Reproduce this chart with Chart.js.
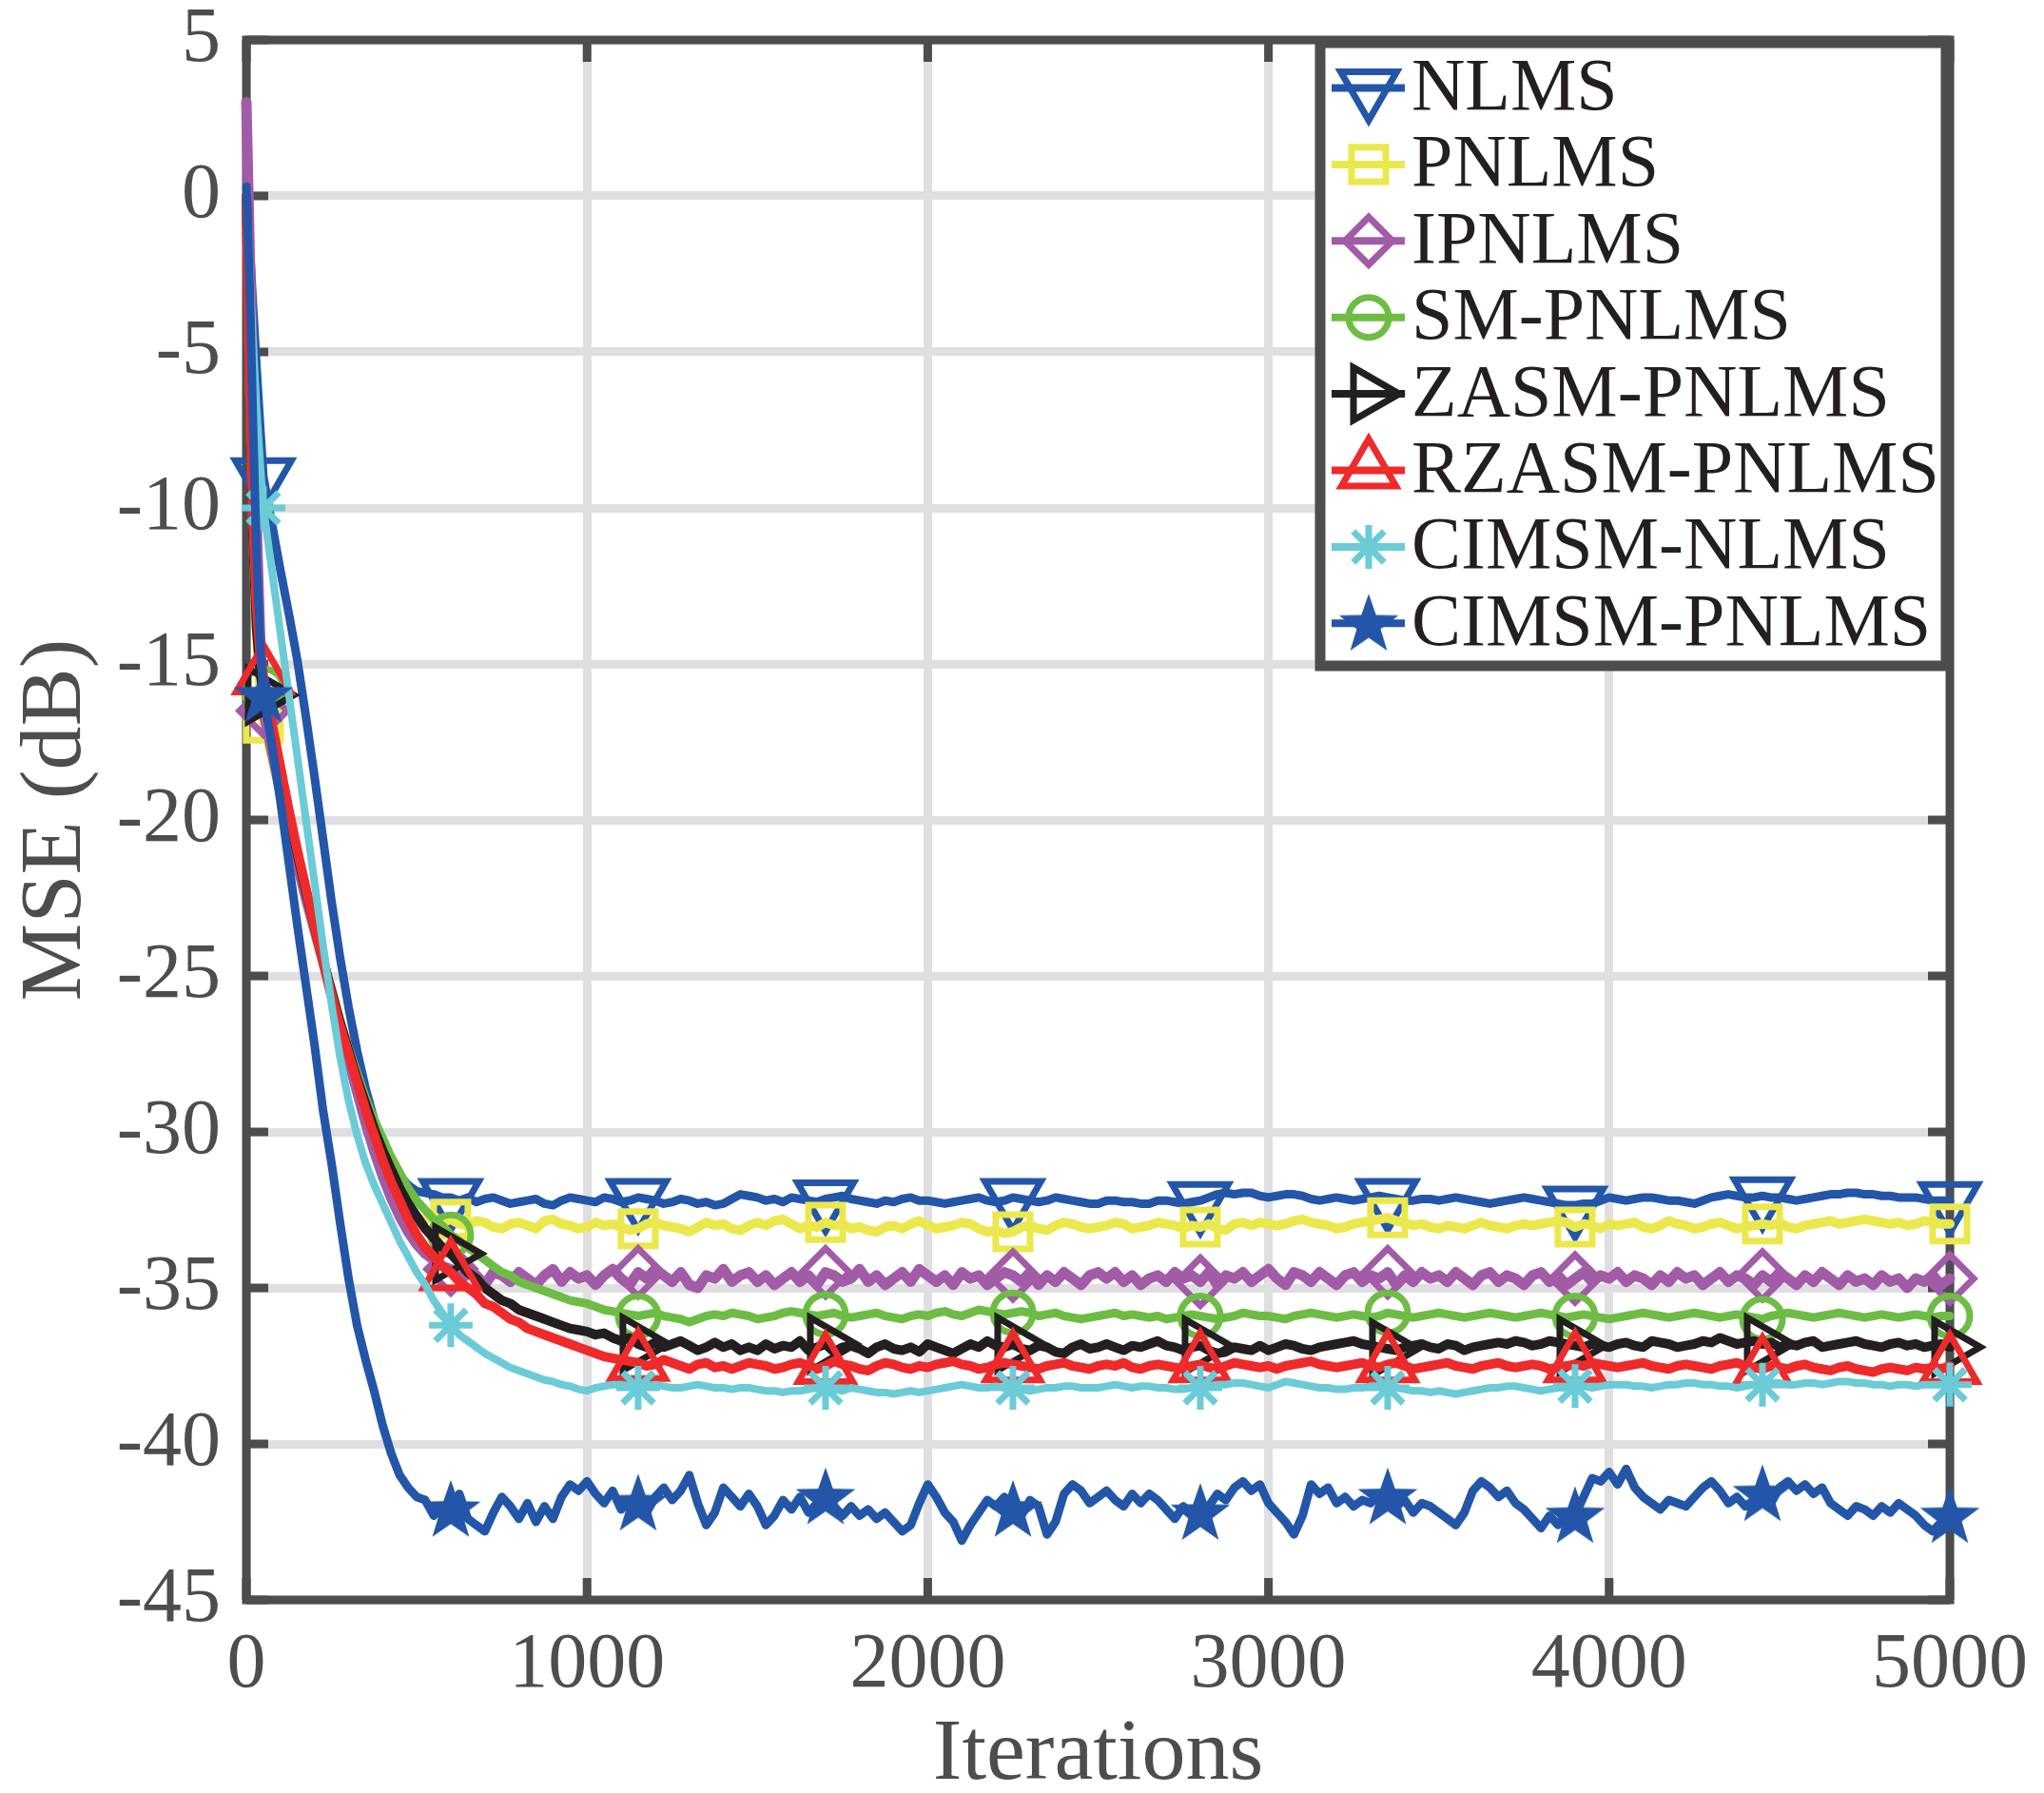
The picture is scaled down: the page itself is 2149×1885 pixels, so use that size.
<!DOCTYPE html>
<html><head><meta charset="utf-8">
<script src="https://cdn.jsdelivr.net/npm/chart.js@4.4.0/dist/chart.umd.min.js"></script>
<style>html,body{margin:0;padding:0;background:#fff;}#wrap{width:2149px;height:1885px;}</style>
</head><body><div id="wrap"><canvas id="c" width="2149" height="1885"></canvas></div>
<script>
// ---------------- DATA ----------------
const iterations = [0,10,20,30,40,50,75,100,125,150,175,200,225,250,275,300,325,350,375,400,425,450,475,500,
525,550,575,600,625,650,675,700,725,750,
775,800,825,850,875,900,925,950,975,1000,
1025,1050,1075,1100,1125,1150,1175,1200,1225,1250,
1275,1300,1325,1350,1375,1400,1425,1450,1475,1500,
1525,1550,1575,1600,1625,1650,1675,1700,1725,1750,
1775,1800,1825,1850,1875,1900,1925,1950,1975,2000,
2025,2050,2075,2100,2125,2150,2175,2200,2225,2250,
2275,2300,2325,2350,2375,2400,2425,2450,2475,2500,
2525,2550,2575,2600,2625,2650,2675,2700,2725,2750,
2775,2800,2825,2850,2875,2900,2925,2950,2975,3000,
3025,3050,3075,3100,3125,3150,3175,3200,3225,3250,
3275,3300,3325,3350,3375,3400,3425,3450,3475,3500,
3525,3550,3575,3600,3625,3650,3675,3700,3725,3750,
3775,3800,3825,3850,3875,3900,3925,3950,3975,4000,
4025,4050,4075,4100,4125,4150,4175,4200,4225,4250,
4275,4300,4325,4350,4375,4400,4425,4450,4475,4500,
4525,4550,4575,4600,4625,4650,4675,4700,4725,4750,
4775,4800,4825,4850,4875,4900,4925,4950,4975,5000];

const seriesNames = ['NLMS','PNLMS','IPNLMS','SM-PNLMS','ZASM-PNLMS','RZASM-PNLMS','CIMSM-NLMS','CIMSM-PNLMS'];

const nlms = [0.2,-1.6,-3.6,-5.5,-7.3,-9.0,-10.5,-12.0,-13.4,-14.9,-16.7,-18.6,-20.6,-22.6,-24.4,-26.0,-27.4,-28.6,-29.6,-30.4,-31.0,-31.4,-31.7,-31.9,
-31.95,-32.0,-32.1,-32.1,-32.2,-32.1,-32.25,-32.15,-32.1,-32.2,
-32.3,-32.25,-32.2,-32.15,-32.3,-32.35,-32.2,-32.1,-32.15,-32.2,
-32.25,-32.1,-32.15,-32.25,-32.2,-32.1,-32.15,-32.2,-32.3,-32.25,
-32.15,-32.2,-32.3,-32.25,-32.35,-32.3,-32.15,-32.0,-32.05,-32.1,
-32.2,-32.15,-32.25,-32.1,-32.15,-32.2,-32.25,-32.15,-32.1,-32.05,
-32.15,-32.2,-32.25,-32.3,-32.2,-32.25,-32.15,-32.1,-32.2,-32.2,
-32.25,-32.3,-32.25,-32.2,-32.15,-32.1,-32.2,-32.25,-32.2,-32.1,
-32.15,-32.2,-32.25,-32.2,-32.1,-32.15,-32.2,-32.25,-32.3,-32.3,
-32.2,-32.2,-32.25,-32.25,-32.3,-32.3,-32.2,-32.2,-32.25,-32.3,
-32.25,-32.2,-32.1,-32.0,-31.95,-32.0,-31.95,-31.95,-32.05,-32.1,
-32.05,-32.0,-32.0,-32.05,-32.15,-32.2,-32.15,-32.1,-32.15,-32.2,
-32.15,-32.1,-32.05,-32.1,-32.15,-32.2,-32.2,-32.15,-32.15,-32.2,
-32.15,-32.1,-32.15,-32.2,-32.25,-32.3,-32.25,-32.2,-32.15,-32.1,
-32.15,-32.2,-32.25,-32.3,-32.35,-32.35,-32.3,-32.3,-32.2,-32.1,
-32.15,-32.2,-32.15,-32.1,-32.1,-32.15,-32.2,-32.2,-32.25,-32.3,
-32.2,-32.1,-32.05,-32.0,-32.05,-32.1,-32.1,-32.05,-32.1,-32.1,
-32.15,-32.2,-32.15,-32.1,-32.05,-32.0,-32.0,-31.95,-31.95,-32.0,
-32.0,-32.05,-32.05,-32.1,-32.1,-32.1,-32.15,-32.2,-32.2,-32.2];

const pnlms = [0.3,-6.0,-11.0,-14.0,-15.9,-16.9,-18.0,-19.2,-20.4,-21.5,-22.6,-23.6,-24.6,-25.6,-26.6,-27.6,-28.6,-29.6,-30.5,-31.3,-31.9,-32.3,-32.6,-32.8,
-32.8,-32.7,-32.9,-32.8,-32.95,-33.0,-32.85,-32.9,-33.05,-33.1,
-32.95,-32.9,-33.0,-33.1,-32.85,-32.8,-32.95,-33.0,-33.1,-33.05,
-32.9,-33.0,-32.95,-33.05,-33.15,-33.1,-32.95,-32.9,-33.0,-33.05,
-33.1,-33.2,-33.05,-32.9,-33.0,-32.95,-33.1,-33.15,-33.0,-32.9,
-33.0,-32.85,-32.8,-32.95,-33.1,-33.0,-33.05,-32.9,-33.0,-32.95,
-33.1,-33.05,-33.15,-33.2,-33.05,-33.0,-33.1,-32.95,-32.85,-33.0,
-33.1,-33.05,-33.0,-32.9,-32.95,-33.1,-33.2,-33.15,-33.25,-33.2,
-33.05,-33.0,-33.1,-33.15,-33.0,-32.9,-32.95,-33.05,-33.1,-33.05,
-33.0,-32.9,-32.95,-33.1,-33.05,-33.0,-32.9,-32.95,-33.0,-33.1,
-33.0,-33.05,-32.95,-33.1,-33.15,-32.95,-32.9,-33.0,-32.9,-32.95,
-33.0,-32.95,-32.85,-32.8,-32.9,-32.95,-33.0,-33.1,-33.05,-32.95,
-32.9,-32.85,-32.8,-32.75,-32.85,-32.9,-33.0,-32.95,-33.05,-33.1,
-33.0,-33.05,-33.1,-33.0,-32.9,-33.0,-33.05,-33.1,-33.0,-32.95,
-33.0,-32.95,-32.9,-32.85,-32.9,-33.05,-32.95,-33.0,-33.1,-32.95,
-33.0,-32.95,-32.9,-33.05,-33.1,-33.0,-32.85,-32.95,-33.0,-33.1,
-33.05,-32.95,-32.9,-33.0,-33.1,-33.05,-33.0,-32.95,-33.0,-32.9,
-33.05,-33.1,-33.0,-32.95,-32.9,-32.85,-32.95,-32.9,-32.85,-32.8,
-32.85,-32.9,-32.95,-32.9,-33.0,-32.95,-32.85,-32.9,-32.95,-32.95];

const ipnlms = [3.0,-2.0,-6.0,-10.5,-14.0,-16.5,-17.8,-19.1,-20.3,-21.4,-22.5,-23.5,-24.5,-25.6,-26.6,-27.7,-28.7,-29.7,-30.6,-31.4,-32.1,-32.7,-33.2,-33.6,
-33.9,-34.1,-34.3,-34.4,-34.7,-34.5,-34.6,-34.9,-34.5,-34.6,
-34.8,-34.5,-34.7,-34.9,-34.6,-34.4,-34.8,-34.5,-34.7,-34.6,
-34.9,-34.6,-34.4,-34.7,-34.9,-34.5,-34.7,-34.4,-34.6,-34.8,
-34.5,-34.9,-35.0,-34.6,-34.7,-34.4,-34.8,-34.6,-34.5,-34.8,
-34.6,-34.9,-34.7,-34.5,-34.8,-34.6,-34.9,-34.5,-34.6,-34.8,
-34.7,-34.4,-34.8,-34.6,-34.9,-34.7,-34.5,-34.8,-34.4,-34.6,
-34.8,-34.6,-34.9,-34.5,-34.7,-34.6,-34.9,-34.7,-34.5,-34.6,
-34.8,-34.5,-34.9,-34.6,-34.8,-34.5,-34.7,-34.9,-34.6,-34.5,
-34.7,-34.5,-34.8,-34.6,-34.9,-34.7,-34.6,-34.8,-34.5,-34.7,
-34.6,-34.8,-34.5,-34.9,-34.6,-34.7,-34.5,-34.8,-34.6,-34.4,
-34.7,-34.9,-34.5,-34.6,-34.8,-34.5,-34.7,-34.9,-34.6,-34.5,
-34.8,-34.6,-34.7,-34.5,-34.9,-34.6,-34.8,-34.5,-34.7,-34.6,
-34.8,-34.5,-34.7,-34.9,-34.6,-34.5,-34.8,-34.6,-34.7,-34.9,
-34.6,-34.5,-34.8,-34.6,-34.9,-34.7,-34.5,-34.8,-34.6,-34.7,
-34.5,-34.8,-34.6,-34.7,-34.9,-34.6,-34.8,-34.5,-34.7,-34.6,
-34.9,-34.7,-34.5,-34.8,-34.6,-34.7,-34.9,-34.6,-34.8,-34.5,
-34.7,-34.9,-34.6,-34.8,-34.5,-34.7,-34.9,-34.6,-34.8,-34.7,
-34.9,-34.6,-34.8,-34.7,-35.0,-34.7,-34.8,-34.6,-34.9,-34.7];

const smpnlms = [0.0,-6.0,-11.0,-13.5,-15.0,-15.8,-17.0,-18.4,-19.7,-21.0,-22.2,-23.3,-24.4,-25.4,-26.4,-27.3,-28.1,-28.9,-29.6,-30.2,-30.8,-31.3,-31.8,-32.2,
-32.5,-32.8,-33.0,-33.3,-33.5,-33.7,-33.9,-34.1,-34.3,-34.5,
-34.6,-34.8,-34.9,-35.0,-35.1,-35.2,-35.3,-35.4,-35.45,-35.5,
-35.6,-35.7,-35.75,-35.8,-35.85,-35.9,-35.85,-35.8,-35.9,-35.95,
-36.0,-36.1,-36.0,-35.9,-35.85,-35.9,-35.8,-35.85,-35.9,-36.0,
-35.95,-35.9,-35.8,-35.75,-35.8,-35.85,-35.9,-35.85,-35.8,-35.9,
-35.95,-35.9,-35.85,-35.8,-35.9,-35.95,-36.0,-35.9,-35.85,-35.9,
-35.8,-35.75,-35.85,-35.9,-35.8,-35.7,-35.75,-35.8,-35.85,-35.8,
-35.75,-35.8,-35.9,-35.85,-35.8,-35.9,-35.95,-36.0,-35.95,-35.9,
-35.85,-35.8,-35.9,-35.85,-35.9,-35.95,-35.9,-36.0,-35.95,-35.9,
-35.85,-35.9,-35.95,-36.0,-35.95,-35.9,-35.8,-35.85,-35.9,-35.9,
-35.95,-36.0,-35.9,-35.85,-35.8,-35.85,-35.9,-35.95,-35.9,-35.85,
-35.9,-35.95,-35.9,-35.8,-35.85,-35.9,-35.95,-35.9,-35.85,-35.8,
-35.85,-35.9,-35.95,-35.9,-35.85,-35.8,-35.85,-35.9,-35.95,-35.9,
-35.85,-35.8,-35.85,-35.9,-35.95,-35.9,-35.85,-35.9,-35.95,-36.0,
-35.95,-35.9,-35.85,-35.8,-35.85,-35.9,-35.95,-35.9,-35.85,-35.8,
-35.85,-35.9,-35.95,-35.9,-35.85,-35.9,-35.95,-36.0,-35.9,-35.85,
-35.8,-35.85,-35.9,-35.95,-35.9,-35.85,-35.8,-35.85,-35.9,-35.95,
-35.9,-35.85,-35.9,-35.95,-35.9,-35.85,-35.9,-35.95,-35.9,-35.9];

const zasmpnlms = [0.0,-6.0,-11.0,-13.8,-15.2,-16.0,-17.3,-18.6,-19.9,-21.1,-22.3,-23.4,-24.5,-25.5,-26.5,-27.4,-28.3,-29.1,-29.9,-30.6,-31.2,-31.8,-32.3,-32.7,
-33.1,-33.4,-33.7,-33.9,-34.2,-34.5,-34.7,-35.0,-35.2,-35.4,
-35.5,-35.7,-35.8,-35.9,-36.0,-36.1,-36.2,-36.3,-36.35,-36.4,
-36.5,-36.45,-36.6,-36.7,-36.6,-36.8,-36.9,-36.75,-36.9,-36.8,
-36.7,-36.85,-37.0,-36.9,-36.75,-36.9,-36.8,-37.0,-36.9,-37.0,
-36.8,-36.95,-36.85,-36.9,-36.7,-37.0,-36.9,-36.8,-37.05,-36.9,
-36.85,-36.95,-37.1,-36.9,-36.8,-36.95,-37.0,-36.9,-37.05,-36.8,
-36.9,-37.0,-37.1,-36.95,-36.8,-36.9,-36.7,-36.85,-36.9,-36.8,
-36.95,-37.0,-36.85,-36.9,-37.05,-37.1,-36.9,-36.8,-36.95,-36.9,
-36.8,-36.9,-37.0,-36.85,-36.9,-36.8,-36.7,-36.85,-36.9,-37.0,
-36.9,-36.85,-37.0,-37.1,-37.05,-36.9,-36.95,-37.0,-36.85,-37.0,
-36.9,-36.8,-36.85,-36.95,-37.0,-36.9,-36.85,-36.8,-36.75,-36.7,
-36.8,-36.85,-36.9,-36.95,-37.0,-36.9,-36.85,-36.8,-36.9,-36.95,
-36.8,-36.85,-37.0,-36.9,-36.85,-36.8,-36.75,-36.8,-36.7,-36.75,
-36.85,-36.8,-36.7,-36.75,-36.8,-36.85,-36.9,-36.8,-36.85,-36.9,
-36.8,-36.75,-36.85,-36.9,-36.7,-36.75,-36.8,-36.9,-36.85,-36.8,
-36.7,-36.75,-36.6,-36.7,-36.8,-36.75,-36.7,-36.8,-36.75,-36.9,
-36.8,-36.85,-36.75,-36.7,-36.9,-36.85,-36.8,-36.75,-36.7,-36.8,
-36.85,-36.9,-36.8,-36.75,-36.85,-36.8,-36.9,-36.85,-36.8,-36.9];

const rzasmpnlms = [0.0,-6.0,-10.5,-13.2,-14.6,-15.4,-16.9,-18.3,-19.7,-21.0,-22.2,-23.4,-24.5,-25.6,-26.6,-27.5,-28.4,-29.3,-30.1,-30.9,-31.6,-32.2,-32.8,-33.3,
-33.7,-34.0,-34.3,-34.5,-34.8,-35.0,-35.2,-35.5,-35.6,-35.8,
-36.0,-36.1,-36.3,-36.4,-36.5,-36.6,-36.7,-36.8,-36.9,-37.0,
-37.1,-37.2,-37.25,-37.3,-37.35,-37.4,-37.5,-37.45,-37.3,-37.4,
-37.5,-37.6,-37.45,-37.4,-37.55,-37.5,-37.6,-37.5,-37.4,-37.45,
-37.5,-37.6,-37.55,-37.45,-37.4,-37.5,-37.6,-37.5,-37.35,-37.45,
-37.5,-37.6,-37.65,-37.5,-37.4,-37.45,-37.55,-37.6,-37.5,-37.55,
-37.45,-37.4,-37.35,-37.45,-37.5,-37.6,-37.55,-37.45,-37.4,-37.45,
-37.5,-37.55,-37.6,-37.5,-37.45,-37.4,-37.5,-37.55,-37.6,-37.5,
-37.45,-37.5,-37.4,-37.55,-37.6,-37.5,-37.45,-37.5,-37.55,-37.6,
-37.5,-37.45,-37.55,-37.6,-37.5,-37.4,-37.45,-37.5,-37.55,-37.5,
-37.6,-37.5,-37.45,-37.4,-37.35,-37.45,-37.5,-37.55,-37.5,-37.45,
-37.4,-37.5,-37.55,-37.45,-37.4,-37.5,-37.6,-37.55,-37.5,-37.45,
-37.4,-37.5,-37.55,-37.6,-37.5,-37.45,-37.4,-37.5,-37.55,-37.5,
-37.45,-37.5,-37.6,-37.55,-37.5,-37.45,-37.5,-37.4,-37.45,-37.5,
-37.55,-37.5,-37.45,-37.4,-37.5,-37.55,-37.6,-37.5,-37.45,-37.5,
-37.55,-37.6,-37.5,-37.45,-37.4,-37.5,-37.55,-37.6,-37.5,-37.55,
-37.6,-37.5,-37.45,-37.55,-37.6,-37.65,-37.55,-37.5,-37.6,-37.65,
-37.7,-37.6,-37.55,-37.6,-37.65,-37.55,-37.6,-37.55,-37.6,-37.5];

const cimsmnlms = [0.0,-2.5,-4.8,-6.8,-8.5,-10.0,-12.0,-14.0,-16.0,-18.0,-20.0,-22.0,-24.0,-25.9,-27.6,-29.0,-30.1,-31.0,-31.7,-32.3,-32.9,-33.5,-34.0,-34.5,
-34.9,-35.4,-35.8,-36.2,-36.5,-36.7,-36.9,-37.1,-37.25,-37.4,
-37.55,-37.65,-37.75,-37.85,-37.95,-38.0,-38.1,-38.15,-38.25,-38.3,
-38.2,-38.15,-38.1,-38.1,-38.15,-38.2,-38.15,-38.1,-38.15,-38.2,
-38.2,-38.15,-38.1,-38.15,-38.2,-38.2,-38.25,-38.2,-38.2,-38.25,
-38.3,-38.3,-38.35,-38.3,-38.3,-38.25,-38.2,-38.2,-38.25,-38.3,
-38.2,-38.25,-38.3,-38.35,-38.35,-38.4,-38.35,-38.3,-38.35,-38.3,
-38.25,-38.2,-38.15,-38.1,-38.15,-38.2,-38.2,-38.15,-38.2,-38.2,
-38.25,-38.3,-38.25,-38.2,-38.2,-38.15,-38.15,-38.2,-38.2,-38.2,
-38.15,-38.1,-38.15,-38.2,-38.15,-38.15,-38.2,-38.2,-38.25,-38.25,
-38.2,-38.2,-38.15,-38.1,-38.1,-38.05,-38.05,-38.1,-38.15,-38.2,
-38.1,-38.0,-38.05,-38.1,-38.15,-38.2,-38.2,-38.25,-38.25,-38.2,
-38.2,-38.15,-38.15,-38.2,-38.2,-38.25,-38.3,-38.3,-38.35,-38.3,
-38.35,-38.4,-38.35,-38.3,-38.25,-38.2,-38.2,-38.15,-38.15,-38.2,
-38.25,-38.3,-38.25,-38.2,-38.2,-38.15,-38.15,-38.2,-38.15,-38.1,
-38.1,-38.1,-38.15,-38.15,-38.2,-38.15,-38.1,-38.1,-38.05,-38.05,
-38.1,-38.1,-38.15,-38.15,-38.2,-38.15,-38.1,-38.1,-38.05,-38.05,
-38.1,-38.1,-38.05,-38.05,-38.1,-38.05,-38.0,-38.0,-38.05,-38.05,
-38.1,-38.1,-38.15,-38.1,-38.1,-38.15,-38.1,-38.1,-38.1,-38.1];

const cimsmpnlms = [0.3,-3.0,-7.5,-11.5,-14.2,-16.0,-17.6,-19.4,-21.4,-23.4,-25.3,-27.2,-29.3,-31.0,-32.9,-34.7,-36.2,-37.3,-38.3,-39.4,-40.3,-41.0,-41.4,-41.7,
-41.8,-42.3,-42.0,-42.1,-41.6,-42.4,-42.6,-42.8,-42.2,-41.7,
-42.0,-42.4,-41.9,-42.5,-42.0,-42.4,-41.7,-41.3,-41.5,-41.2,
-41.6,-41.9,-41.5,-42.1,-41.8,-41.9,-42.2,-41.7,-41.4,-41.8,
-41.5,-41.0,-41.9,-42.6,-42.2,-41.4,-41.7,-42.0,-41.6,-42.0,
-42.6,-42.3,-41.8,-42.1,-41.7,-42.2,-41.9,-41.7,-42.0,-42.3,
-42.0,-42.3,-42.1,-42.4,-42.2,-42.5,-42.8,-42.6,-41.9,-41.3,
-41.7,-42.2,-42.5,-43.1,-42.6,-42.2,-41.8,-42.0,-41.7,-42.1,
-42.3,-41.8,-42.0,-42.9,-42.5,-41.6,-41.3,-41.5,-41.9,-41.7,
-41.5,-41.8,-42.0,-41.6,-41.9,-41.6,-41.8,-42.1,-42.4,-42.0,
-42.3,-42.2,-42.0,-41.6,-41.8,-41.4,-41.2,-41.5,-41.3,-41.9,
-42.2,-42.5,-42.9,-42.3,-41.3,-41.6,-41.4,-41.9,-41.7,-42.0,
-41.8,-41.9,-41.6,-41.7,-42.0,-41.8,-42.2,-41.9,-42.0,-42.2,
-42.4,-42.6,-42.2,-41.5,-41.2,-41.4,-41.7,-41.5,-41.9,-42.1,
-42.4,-42.7,-42.3,-42.6,-42.2,-42.3,-41.7,-41.1,-41.2,-40.9,
-41.3,-40.8,-41.4,-41.7,-41.9,-42.1,-41.8,-41.9,-42.0,-41.7,
-41.4,-41.2,-41.5,-41.9,-41.7,-42.0,-41.8,-41.6,-41.9,-41.4,
-41.2,-41.5,-41.3,-41.6,-41.4,-41.9,-42.1,-42.3,-42.0,-42.1,
-42.3,-42.0,-42.2,-41.9,-42.1,-42.3,-42.6,-42.8,-42.5,-42.3];

const markerIters = [50,600,1150,1700,2250,2800,3350,3900,4450,5000];
const xTicks = [0,1000,2000,3000,4000,5000];
const yTicks = [5,0,-5,-10,-15,-20,-25,-30,-35,-40,-45];
const xTitle = 'Iterations';
const yTitle = 'MSE (dB)';

// ---------------- STYLE ----------------
const FONT = '"Liberation Serif", "Times New Roman", serif';
const AXIS = '#4d4d4f';
const colors = ['#2356a8','#ebe84d','#a25ba6','#6dbd45','#231f20','#ee2a2b','#6bcbd6','#2356a8'];
const radii = [34, 25.5, 25, 21, 32, 33, 23, 33];
const lineWidths = [9, 10, 11, 9, 10, 10, 8, 9];

function makePentagram(R, color) {
  const size = Math.ceil(2 * R + 6);
  const c = document.createElement('canvas');
  c.width = size; c.height = size;
  const g = c.getContext('2d');
  const cx = size / 2, cy = size / 2 + R * 0.06, r = R * 0.40;
  g.fillStyle = color;
  g.beginPath();
  for (let k = 0; k < 10; k++) {
    const ang = -Math.PI / 2 + k * Math.PI / 5;
    const rr = k % 2 === 0 ? R : r;
    g.lineTo(cx + rr * Math.cos(ang), cy + rr * Math.sin(ang));
  }
  g.closePath(); g.fill();
  return c;
}
const starImg = makePentagram(33, colors[7]);

const styles = [
  {pointStyle: 'triangle', rotation: 180},
  {pointStyle: 'rect', rotation: 0},
  {pointStyle: 'rectRot', rotation: 0},
  {pointStyle: 'circle', rotation: 0},
  {pointStyle: 'triangle', rotation: 90},
  {pointStyle: 'triangle', rotation: 0},
  {pointStyle: 'star', rotation: 0},
  {pointStyle: starImg, rotation: 0}
];
const allSeries = [nlms, pnlms, ipnlms, smpnlms, zasmpnlms, rzasmpnlms, cimsmnlms, cimsmpnlms];

const datasets = allSeries.map((vals, i) => ({
  label: seriesNames[i],
  data: iterations.map((it, k) => ({x: it, y: vals[k]})),
  borderColor: colors[i],
  borderWidth: lineWidths[i],
  borderJoinStyle: 'round',
  borderCapStyle: 'round',
  backgroundColor: 'rgba(0,0,0,0)',
  pointBackgroundColor: i === 7 ? colors[i] : 'rgba(0,0,0,0)',
  pointBorderColor: colors[i],
  pointBorderWidth: 7,
  pointStyle: styles[i].pointStyle,
  pointRotation: styles[i].rotation,
  pointRadius: (ctx) => markerIters.includes(iterations[ctx.dataIndex]) ? radii[i] : 0,
  pointHoverRadius: 0,
  tension: 0,
  fill: false,
  clip: false,
  order: 7 - i
}));

const axesBox = {
  id: 'axesBox',
  beforeDatasetsDraw(chart) {
    const {ctx, chartArea: a, scales: {x, y}} = chart;
    ctx.save();
    ctx.strokeStyle = AXIS; ctx.lineWidth = 9; ctx.lineCap = 'butt';
    const tl = 23;
    const seg = (x1, y1, x2, y2) => { ctx.beginPath(); ctx.moveTo(x1, y1); ctx.lineTo(x2, y2); ctx.stroke(); };
    xTicks.forEach(v => { const p = x.getPixelForValue(v); seg(p, a.bottom, p, a.bottom - tl); seg(p, a.top, p, a.top + tl); });
    yTicks.forEach(v => { const p = y.getPixelForValue(v); seg(a.left, p, a.left + tl, p); seg(a.right, p, a.right - tl, p); });
    ctx.lineJoin = 'miter';
    ctx.strokeRect(a.left, a.top, a.right - a.left, a.bottom - a.top);
    ctx.restore();
  }
};

const boxLegend = {
  id: 'boxLegend',
  afterDraw(chart) {
    const ctx = chart.ctx;
    const L = {x: 1388, y: 45, w: 658, h: 655};
    ctx.save();
    ctx.fillStyle = '#ffffff';
    ctx.fillRect(L.x, L.y, L.w, L.h);
    ctx.lineWidth = 11; ctx.strokeStyle = AXIS;
    ctx.strokeRect(L.x, L.y, L.w, L.h);
    chart.data.datasets.forEach((ds, i) => {
      const yy = 92.5 + 80.4 * i;
      ctx.strokeStyle = ds.borderColor; ctx.lineWidth = 8;
      ctx.beginPath(); ctx.moveTo(1400, yy); ctx.lineTo(1477, yy); ctx.stroke();
      ctx.fillStyle = ds.pointBackgroundColor; ctx.strokeStyle = ds.pointBorderColor;
      ctx.lineWidth = ds.pointBorderWidth;
      Chart.helpers.drawPoint(ctx, {pointStyle: ds.pointStyle, rotation: ds.pointRotation, radius: radii[i], borderWidth: ds.pointBorderWidth}, 1439, yy);
      ctx.fillStyle = '#231f20';
      ctx.font = '78px ' + FONT;
      ctx.textAlign = 'left'; ctx.textBaseline = 'middle';
      ctx.fillText(ds.label, 1484, yy + 2);
    });
    ctx.restore();
  }
};

Chart.defaults.font.family = FONT;

new Chart(document.getElementById('c'), {
  type: 'line',
  data: {datasets},
  plugins: [axesBox, boxLegend],
  options: {
    responsive: false,
    animation: false,
    devicePixelRatio: 1,
    events: [],
    layout: {padding: {left: 0, top: 42, right: 99, bottom: 0}},
    plugins: {legend: {display: false}, tooltip: {enabled: false}},
    scales: {
      x: {
        type: 'linear', min: 0, max: 5000,
        afterBuildTicks: (s) => { s.ticks = xTicks.map(v => ({value: v})); },
        ticks: {color: AXIS, font: {size: 82}, padding: 20, maxRotation: 0, autoSkip: false, callback: (v) => String(v)},
        grid: {color: '#dfdfe1', lineWidth: 9, drawTicks: false},
        border: {display: false},
        title: {display: true, text: xTitle, color: AXIS, font: {size: 92, lineHeight: 0.86}, padding: 0},
        afterFit: (s) => { s.height = 203; s.paddingLeft = 0; s.paddingRight = 0; }
      },
      y: {
        type: 'linear', min: -45, max: 5,
        afterBuildTicks: (s) => { s.ticks = yTicks.map(v => ({value: v})); },
        ticks: {color: AXIS, font: {size: 82}, padding: 27, autoSkip: false, callback: (v) => String(v)},
        grid: {color: '#dfdfe1', lineWidth: 9, drawTicks: false},
        border: {display: false},
        title: {display: true, text: yTitle, color: AXIS, font: {size: 92, lineHeight: 1}, padding: {top: 14, bottom: 0}},
        afterFit: (s) => { s.width = 259; s.paddingTop = 0; s.paddingBottom = 0; }
      }
    }
  }
});
</script>
</body></html>
